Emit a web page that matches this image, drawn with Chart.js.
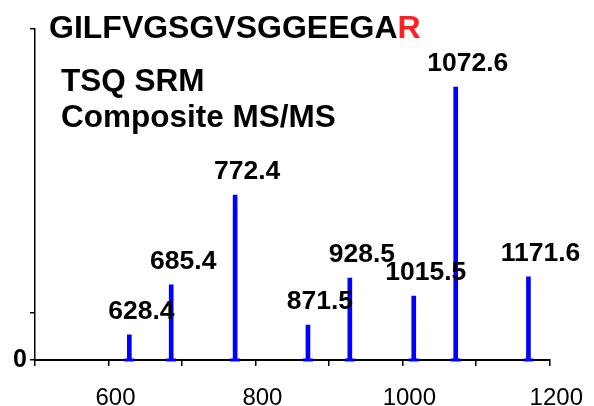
<!DOCTYPE html>
<html>
<head>
<meta charset="utf-8">
<script src="https://cdn.jsdelivr.net/npm/chart.js@4/dist/chart.umd.min.js"></script>
<style>
  html, body { margin: 0; padding: 0; background: #fff; }
  #wrap { width: 594px; height: 406px; }
</style>
</head>
<body>
<div id="wrap"><canvas id="spectrum"></canvas></div>
<script>
// fragment ions (m/z) and relative heights
const mzValues = [628.4, 685.4, 772.4, 871.5, 928.5, 1015.5, 1072.6, 1171.6];
const intensities = [0.53, 1.59, 3.49, 0.74, 1.73, 1.35, 5.77, 1.76];
const peakLabels = ['628.4', '685.4', '772.4', '871.5', '928.5', '1015.5', '1072.6', '1171.6'];
const xTickLabels = [600, 800, 1000, 1200];
const yTicks = [0, 1, 7];

const peptide = 'GILFVGSGVSGGEEGA';
const peptideEnd = 'R';
const subtitle = ['TSQ SRM', 'Composite MS/MS'];

const FONT = 'Arial, "Liberation Sans", sans-serif';
const BLUE = '#0000ff';

const peaks = mzValues.map((mz, i) => ({ x: mz, y: intensities[i] }));
const feet = mzValues.map((mz) => ({ x: mz, y: 0 }));

const textPlugin = {
  id: 'spectrumText',
  afterDatasetsDraw(chart) {
    const ctx = chart.ctx;
    ctx.save();
    ctx.textBaseline = 'alphabetic';

    // peptide sequence, last residue in red
    ctx.font = 'bold 32px ' + FONT;
    ctx.textAlign = 'left';
    ctx.fillStyle = '#000';
    ctx.fillText(peptide, 49, 38);
    const w = ctx.measureText(peptide).width;
    ctx.fillStyle = '#ff2020';
    ctx.fillText(peptideEnd, 49 + w, 38);

    ctx.font = 'bold 31.5px ' + FONT;
    ctx.fillStyle = '#000';
    ctx.fillText(subtitle[0], 61, 91);
    ctx.fillText(subtitle[1], 61, 127);

    // peak annotations
    const meta = chart.getDatasetMeta(0);
    ctx.font = 'bold 26.5px ' + FONT;
    ctx.textAlign = 'center';
    meta.data.forEach((bar, i) => {
      ctx.fillText(peakLabels[i], bar.x + 12, bar.y - 16);
    });
    ctx.restore();
  },
};

new Chart(document.getElementById('spectrum'), {
  type: 'bar',
  data: {
    datasets: [
      {
        data: peaks,
        backgroundColor: BLUE,
        barThickness: 4,
        order: 2,
      },
      {
        type: 'scatter',
        data: feet,
        pointStyle: 'line',
        pointRadius: 5,
        pointHoverRadius: 5,
        borderColor: BLUE,
        borderWidth: 3,
        clip: false,
        order: 1,
      },
    ],
  },
  options: {
    responsive: true,
    maintainAspectRatio: false,
    animation: false,
    events: [],
    layout: { padding: { top: 29, right: 44, left: 0, bottom: 0 } },
    plugins: {
      legend: { display: false },
      tooltip: { enabled: false },
    },
    scales: {
      x: {
        type: 'linear',
        min: 500,
        max: 1200,
        offset: false,
        border: { color: '#000', width: 2 },
        grid: {
          offset: false,
          drawOnChartArea: false,
          color: '#000',
          tickLength: 6,
          lineWidth: 1.5,
        },
        ticks: {
          stepSize: 100,
          autoSkip: false,
          maxRotation: 0,
          color: '#000',
          font: { family: FONT, size: 24 },
          padding: 18,
          labelOffset: 7,
          callback: (v) => (xTickLabels.includes(v) ? String(v) : ''),
        },
        afterFit: (scale) => { scale.height = 46; },
      },
      y: {
        min: 0,
        max: 7,
        border: { color: '#000', width: 1.5 },
        grid: {
          drawOnChartArea: false,
          color: '#000',
          tickLength: 5,
          lineWidth: 1.5,
        },
        afterBuildTicks: (scale) => {
          scale.ticks = yTicks.map((v) => ({ value: v }));
        },
        ticks: {
          color: '#000',
          font: { family: FONT, size: 25, weight: 'bold' },
          padding: 3,
          callback: (v) => (v === 0 ? '0' : ''),
        },
        afterFit: (scale) => { scale.width = 35; },
      },
    },
  },
  plugins: [textPlugin],
});
</script>
</body>
</html>
